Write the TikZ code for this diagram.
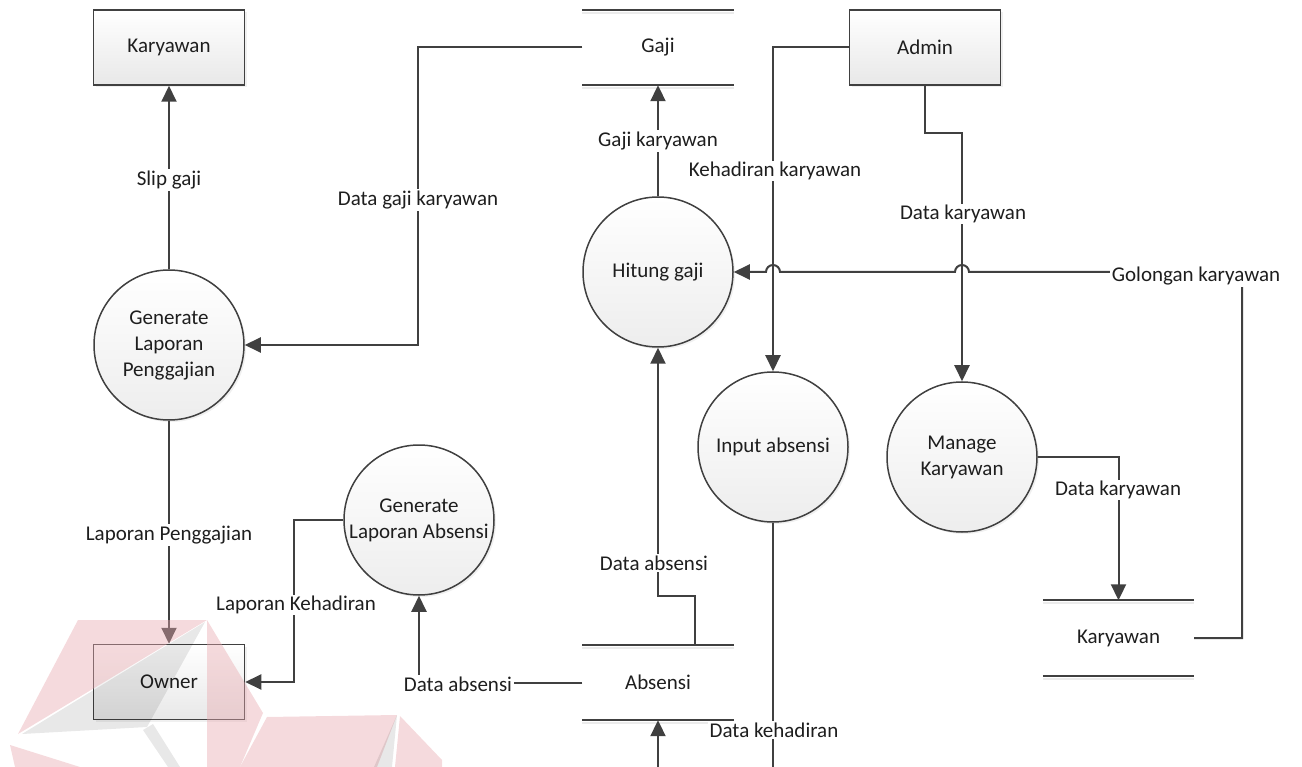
\documentclass[tikz,border=0pt]{standalone}
\usepackage{fontspec}
\setmainfont{Carlito}
\usetikzlibrary{arrows.meta,shadows}
\definecolor{ln}{HTML}{404040}
\definecolor{tx}{HTML}{1E1E1E}
\definecolor{wmred}{HTML}{E8A8AE}

\begin{document}
\begin{tikzpicture}[x=1pt,y=-1pt,
  font=\fontsize{21}{26}\selectfont, text=tx,
  proc/.style={circle, draw=ln, line width=1.5pt, minimum size=150pt, inner sep=0pt,
    align=center, top color=white, bottom color=black!7,
    drop shadow={shadow xshift=2pt, shadow yshift=-2pt, opacity=.12}},
  ext/.style={rectangle, draw=ln, line width=1.5pt, minimum width=151pt, minimum height=75pt,
    top color=white, bottom color=black!9,
    drop shadow={shadow xshift=2pt, shadow yshift=-2pt, opacity=.12}},
  store/.style={rectangle, minimum width=151pt, minimum height=75pt, inner sep=0pt},
  storeline/.style={draw=ln, line width=2pt},
  storeshade/.style={draw=black!8, line width=2pt},
  flow/.style={draw=ln, line width=2pt, -{Triangle[length=16pt,width=15pt]}},
  lbl/.style={fill=white, inner sep=1.5pt},
]
\useasboundingbox (0,0) rectangle (1302,767);
\clip (0,0) rectangle (1302,767);

% external entities
\node[ext] (karyawan) at (169,47.5) {Karyawan};
\node[ext] (admin) at (925,47.5) {Admin};
\node[ext] (owner) at (169,682) {Owner};

% processes
\node[proc] (glp) at (169,345) {Generate\\Laporan\\Penggajian};
\node[proc] (hitung) at (658,272) {Hitung gaji};
\node[proc] (inabs) at (773,447) {Input absensi};
\node[proc] (manage) at (962,457) {Manage\\Karyawan};
\node[proc] (gla) at (419,520) {Generate\\Laporan Absensi};

% data stores
\node[store] (gaji) at (658,47.5) {Gaji};
\node[store] (absensi) at (658,682.5) {Absensi};
\node[store] (kstore) at (1118.5,638) {Karyawan};
\foreach \s in {gaji,absensi,kstore}{
  \draw[storeshade] ([yshift=-3pt]\s.north west) -- ([yshift=-3pt]\s.north east);
  \draw[storeshade] ([yshift=-3pt]\s.south west) -- ([yshift=-3pt]\s.south east);
  \draw[storeline] (\s.north west) -- (\s.north east);
  \draw[storeline] (\s.south west) -- (\s.south east);
}
\coordinate (abstap) at (695,645);

% data flows
\draw[flow] (glp) -- (karyawan);
\draw[flow] (gaji.west) -- (418,47.5) |- (glp.east);
\draw[flow] (hitung) -- (gaji);
\draw[flow] (admin.west) -| (inabs.north);
\draw[flow] (admin.south) -- (925,133) -| (manage.north);
\draw[flow] (manage.east) -| (kstore.north);
\draw[flow] (kstore.east) -- (1242,638) -- (1242,272) -- (969,272)
  arc[start angle=0, end angle=-180, radius=7] -- (780,272)
  arc[start angle=0, end angle=-180, radius=7] -- (hitung.east);
\draw[flow] (abstap) -- (695,596) -| (hitung.south);
\draw[flow] (absensi.west) -| (gla.south);
\draw[flow] (gla.west) -- (294,520) |- (owner.east);
\draw[flow] (glp) -- (owner);
\draw[flow] (inabs.south) -- (773,800) -| (absensi.south);

% flow labels
\node[lbl] (l1) at (169,180) {Slip gaji};
\node[lbl] (l2) at (418,200) {Data gaji karyawan};
\node[lbl] (l3) at (658,141) {Gaji karyawan};
\node[lbl] (l4) at (775,171) {Kehadiran karyawan};
\node[lbl] (l5) at (963,214) {Data karyawan};
\node[lbl] (l6) at (1196,276) {Golongan karyawan};
\node[lbl] (l7) at (1118,490) {Data karyawan};
\node[lbl] (l8) at (654,563) {Data absensi};
\node[lbl] (l9) at (458,684) {Data absensi};
\node[lbl] (l10) at (774,730) {Data kehadiran};
\node[lbl] (l11) at (169,535) {Laporan Penggajian};
\node[lbl] (l12) at (296,605) {Laporan Kehadiran};

% faint logo in the lower left corner
\begin{scope}[opacity=.42]
  \fill[wmred] (78,620) -- (207,620) -- (18,734) -- cycle;
  \fill[wmred] (207,620) -- (263,713) -- (240,767) -- (207,767) -- cycle;
  \fill[wmred] (10,745) -- (80,767) -- (15,767) -- cycle;
  \fill[wmred] (267,717) -- (397,715) -- (377,767) -- (240,767) -- cycle;
  \fill[wmred] (400,716) -- (442,760) -- (442,767) -- (395,767) -- cycle;
\end{scope}
\begin{scope}[opacity=.09]
  \fill[black] (22,734) -- (205,622) -- (147,727) -- cycle;
  \fill[black] (143,730) -- (153,724) -- (180,767) -- (168,767) -- cycle;
  \fill[black] (397,715) -- (392,767) -- (374,767) -- cycle;
\end{scope}
\end{tikzpicture}
\end{document}
